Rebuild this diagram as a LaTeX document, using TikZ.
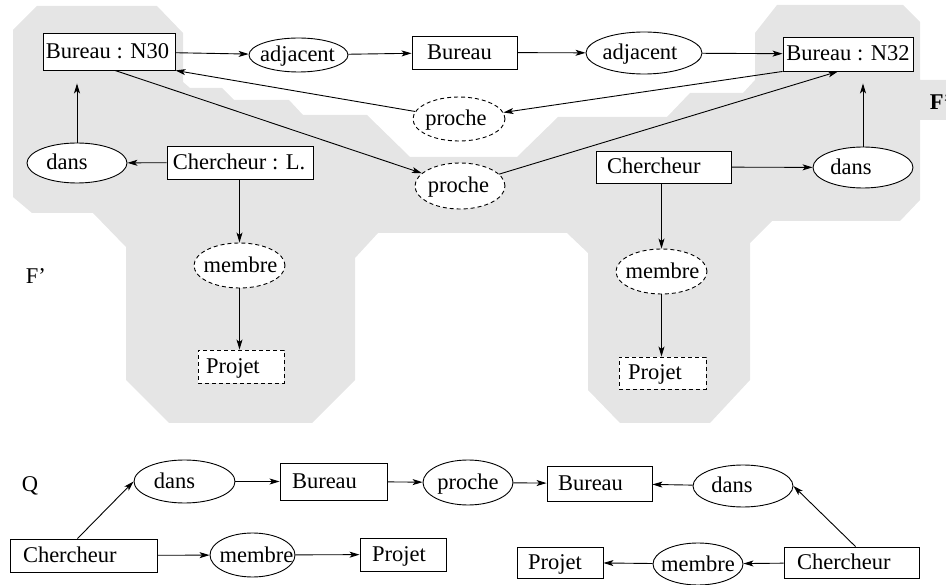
\documentclass[tikz,border=0pt]{standalone}
\usepackage{fontspec}
\setmainfont{Liberation Serif}
\usetikzlibrary{arrows.meta,shapes.geometric}
\definecolor{regiongray}{RGB}{229,229,229}
\newcommand\lblsize{\fontsize{22.5pt}{27pt}\selectfont}
% zero-width label, centred and shifted by half of #1
\newcommand\ofs[2]{\makebox[0pt]{\hspace*{#1}#2}}
% zero-width label starting #1 from the node centre
\newcommand\lft[2]{\makebox[0pt][l]{\hspace*{#1}#2}}
\begin{document}
\begin{tikzpicture}[x=1pt,y=-1pt,
  every node/.style={font=\lblsize, text height=19pt, text depth=5pt, line width=0.9pt},
  box/.style={draw, rectangle, fill=white, inner sep=0pt},
  rel/.style={draw, ellipse, fill=white, inner sep=0pt},
  virt/.style={dash pattern=on 4pt off 3pt},
  arr/.style={-{Stealth[length=10pt,width=6pt,inset=2.5pt]}, line width=0.9pt},
]
\useasboundingbox (0,0) rectangle (946,585);

% projection region
\fill[regiongray] (37,6) -- (157,6) -- (183,33) -- (183,82) -- (190,88) -- (222,88)
  -- (234,100) -- (289,100) -- (303,115) -- (367,115) -- (410,157) -- (517,157)
  -- (558,117) -- (667,117) -- (690,93) -- (743,93) -- (755,80) -- (755,33)
  -- (777,5) -- (903,5) -- (920,22) -- (920,80) -- (950,80) -- (950,120)
  -- (920,120) -- (920,200) -- (900,221) -- (772,221) -- (750,243) -- (750,380)
  -- (710,423) -- (620,423) -- (588,390) -- (588,253) -- (567,233) -- (378,233)
  -- (355,258) -- (355,380) -- (312,423) -- (169,423) -- (126,380) -- (126,247)
  -- (93,213) -- (32,213) -- (13,197) -- (13,30) -- cycle;

% graph F'
\node[box, minimum width=132pt, minimum height=37pt] (n30) at (109,51.5) {\ofs{-3pt}{Bureau : N30}};
\node[rel, minimum width=99pt, minimum height=34pt] (adj1) at (298.5,55) {\ofs{-2pt}{adjacent}};
\node[box, minimum width=105pt, minimum height=33pt] (bur) at (464.5,52.5) {\lft{-37.5pt}{Bureau}};
\node[rel, minimum width=116pt, minimum height=42pt] (adj2) at (644,53) {\ofs{-8pt}{adjacent}};
\node[box, minimum width=130pt, minimum height=34pt] (n32) at (848,54) {\ofs{0pt}{Bureau : N32}};

\node[rel, virt, minimum width=92pt, minimum height=44pt] (pr1) at (459,119) {\ofs{-6pt}{proche}};
\node[rel, virt, minimum width=90pt, minimum height=46pt] (pr2) at (460,186) {\ofs{-3pt}{proche}};

\node[rel, minimum width=100pt, minimum height=40pt] (dansl) at (77,163) {\ofs{-20pt}{dans}};
\node[box, minimum width=146pt, minimum height=33pt] (chl) at (240,162.5) {\ofs{-2pt}{Chercheur : L.}};
\node[box, minimum width=135pt, minimum height=32pt] (chr) at (663.5,167) {\lft{-56.5pt}{Chercheur}};
\node[rel, minimum width=100pt, minimum height=41pt] (dansr) at (863,167.5) {\ofs{-24pt}{dans}};

\node[rel, virt, minimum width=91pt, minimum height=45pt] (meml) at (239.5,265.5) {\ofs{2pt}{membre}};
\node[box, virt, minimum width=86pt, minimum height=33pt] (pjl) at (241,366.5) {\lft{-35pt}{Projet}};
\node[rel, virt, minimum width=91pt, minimum height=45pt] (memr) at (661.5,271.5) {\ofs{2pt}{membre}};
\node[box, virt, minimum width=87pt, minimum height=32pt] (pjr) at (662.5,373) {\lft{-34.5pt}{Projet}};

\node[anchor=base west] (fl) at (22,284) {F’};
\node[anchor=base west, font=\lblsize\bfseries] (fr) at (926,110) {F’};

\draw[arr] (n30) -- (adj1);
\draw[arr] (adj1) -- (bur);
\draw[arr] (bur) -- (adj2);
\draw[arr] (adj2) -- (n32);
\draw[arr] (n32.south west) -- (pr1);
\draw[arr] (pr1) -- (n30.south east);
\draw[arr] ([xshift=6pt]n30.south) -- (pr2);
\draw[arr] (pr2) -- ([xshift=-10pt]n32.south);
\draw[arr] (chl) -- (dansl);
\draw[arr, shorten >=13pt] (dansl.north) -- (dansl.north |- n30.south);
\draw[arr] (chr) -- (dansr);
\draw[arr, shorten >=12pt] (dansr.north) -- (dansr.north |- n32.south);
\draw[arr] (meml |- chl.south) -- (meml);
\draw[arr] (meml) -- (meml |- pjl.north);
\draw[arr] (memr |- chr.south) -- (memr);
\draw[arr] (memr) -- (memr |- pjr.north);

% query Q
\node[anchor=base west] (q) at (18,491) {Q};
\node[rel, minimum width=101pt, minimum height=43pt] (bdans) at (184.5,481.5) {\ofs{-20pt}{dans}};
\node[box, minimum width=107pt, minimum height=37pt] (bbur) at (333.5,481.5) {\lft{-41.5pt}{Bureau}};
\node[rel, minimum width=90pt, minimum height=45pt] (bpr) at (468,482.5) {\ofs{0pt}{proche}};
\node[box, minimum width=105pt, minimum height=35pt] (bbur2) at (599.5,483.5) {\lft{-41.5pt}{Bureau}};
\node[rel, minimum width=100pt, minimum height=42pt] (bdans2) at (743,486) {\ofs{-22pt}{dans}};

\node[box, minimum width=147pt, minimum height=33pt] (bch) at (83.5,555.5) {\lft{-60.5pt}{Chercheur}};
\node[rel, minimum width=85pt, minimum height=44pt] (bmem) at (252.5,555) {\ofs{8pt}{membre}};
\node[box, minimum width=86pt, minimum height=33pt] (bpj) at (403,554.5) {\lft{-31pt}{Projet}};
\node[box, minimum width=86pt, minimum height=31pt] (bpj2) at (560,562.5) {\lft{-32pt}{Projet}};
\node[rel, minimum width=90pt, minimum height=42pt] (bmem2) at (698,564) {\ofs{0pt}{membre}};
\node[box, minimum width=135pt, minimum height=31pt] (bch2) at (851.5,562.5) {\lft{-54.5pt}{Chercheur}};

\draw[arr] ([xshift=-6pt]bch.north) -- (bdans.west);
\draw[arr] (bdans) -- (bbur);
\draw[arr] (bbur) -- (bpr);
\draw[arr] (bpr) -- (bbur2);
\draw[arr] (bdans2) -- (bbur2);
\draw[arr] ([xshift=4pt]bch2.north) -- (bdans2.east);
\draw[arr] (bch) -- (bmem);
\draw[arr] (bmem) -- (bpj);
\draw[arr] (bch2) -- (bmem2);
\draw[arr] (bmem2) -- (bpj2);
\end{tikzpicture}
\end{document}
